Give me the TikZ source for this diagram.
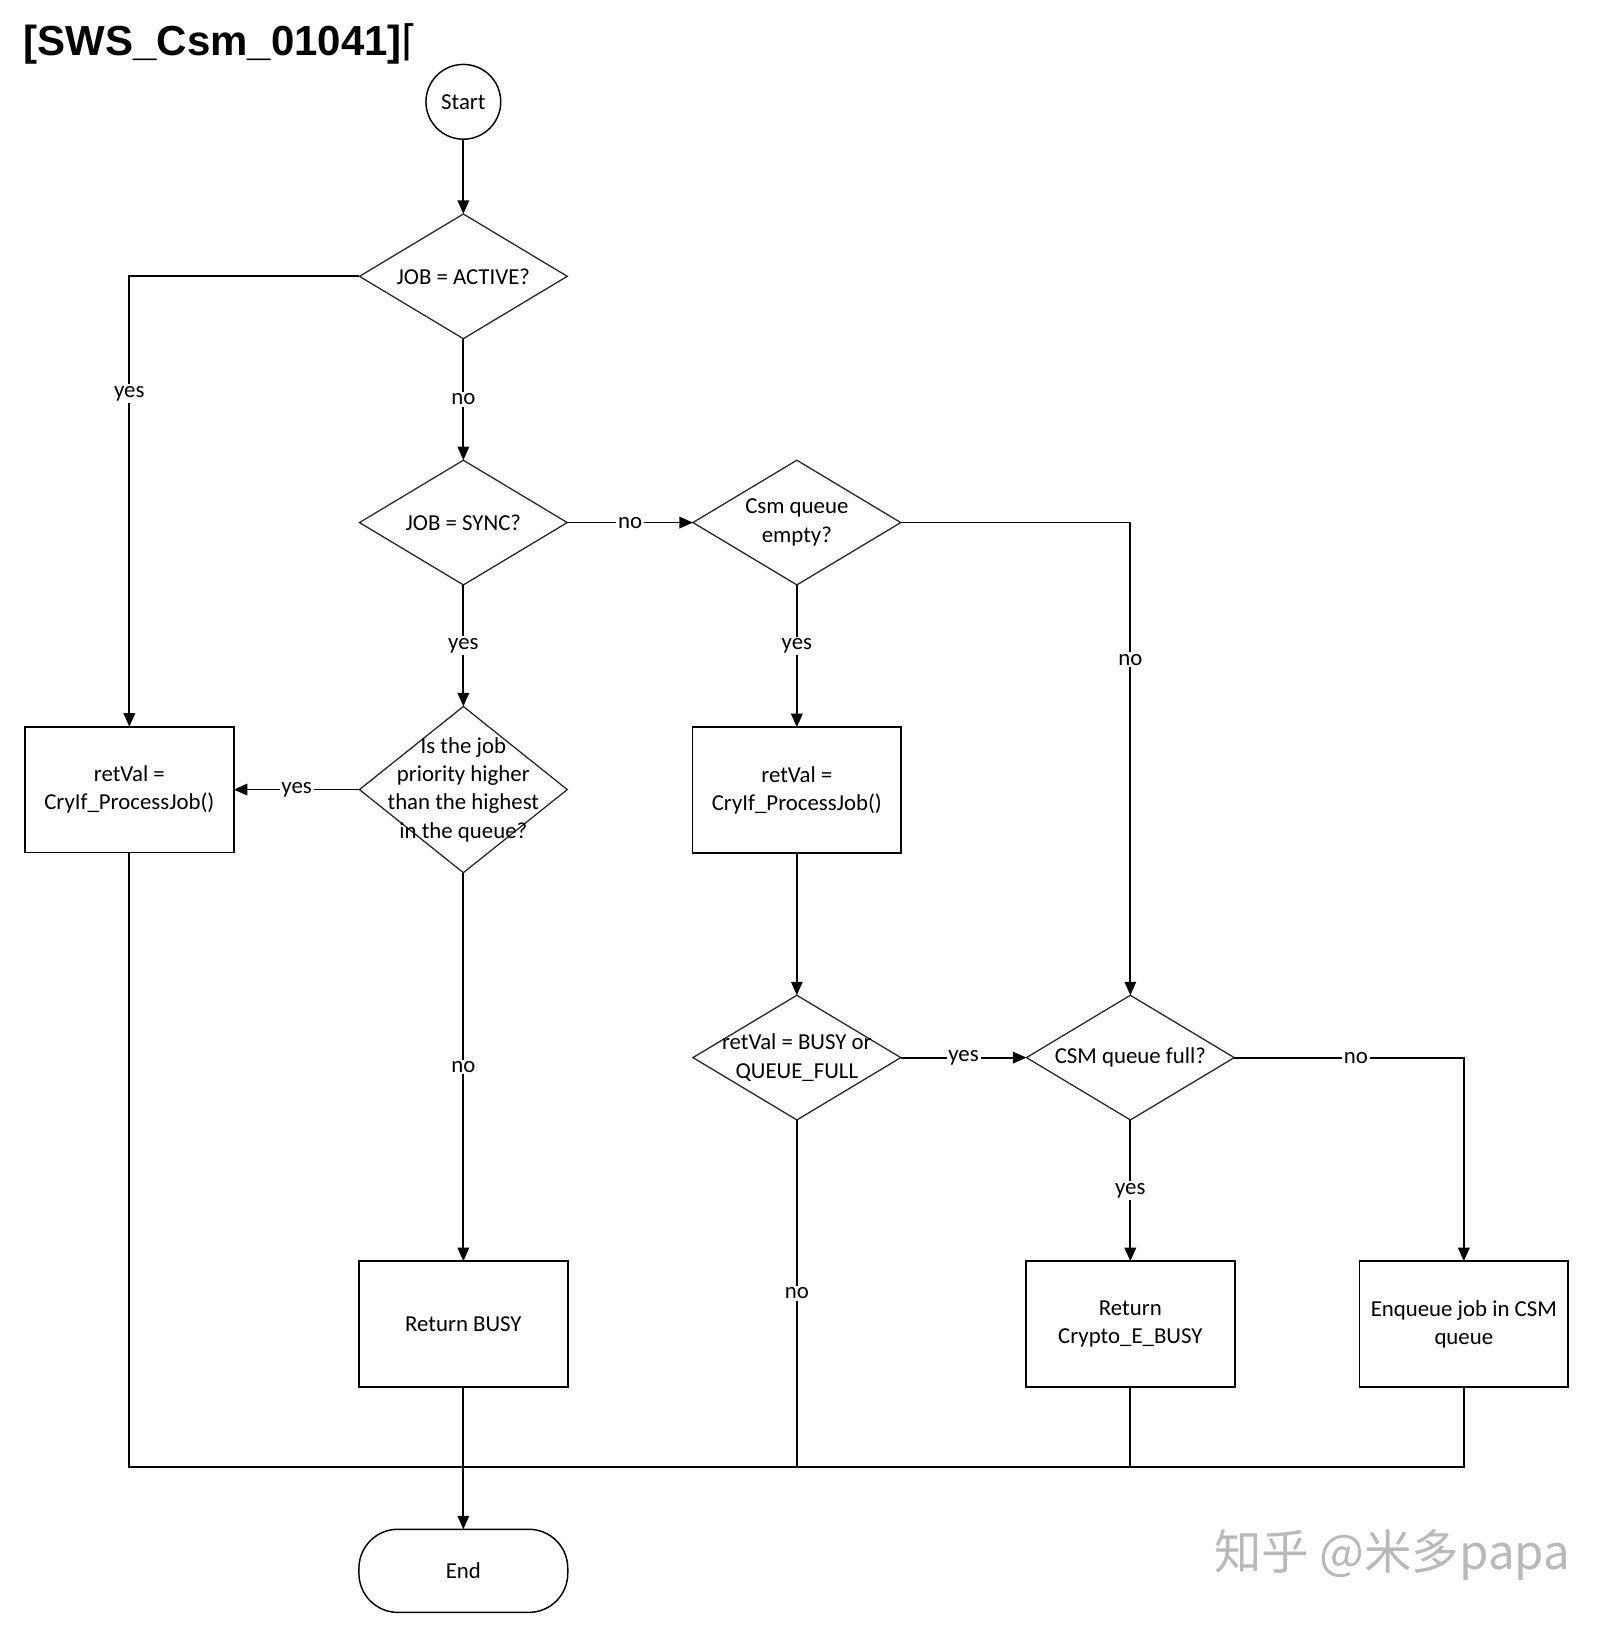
\documentclass[tikz,border=0pt]{standalone}
\usepackage{fontspec}
\setmainfont{Carlito}
\newfontfamily\titlefont{Liberation Sans}
\newfontfamily\symfont{DejaVu Sans}
\newfontfamily\cjk{Noto Sans CJK SC}
\usetikzlibrary{positioning,arrows.meta,shapes.geometric}

\begin{document}
\begin{tikzpicture}[
  font=\fontsize{12.5}{15.5}\selectfont,
  decision/.style={diamond, draw=black!85, line width=0.7pt, aspect=1.667,
                   minimum width=4cm, minimum height=2.4cm, inner sep=0pt, outer sep=0pt},
  qtext/.style={align=center, inner sep=0pt},
  process/.style={draw, line width=1pt, align=center, outer sep=0pt,
                  minimum width=4.02cm, minimum height=2.42cm},
  terminal/.style={draw, line width=0.8pt, align=center, outer sep=0pt},
  lbl/.style={fill=white, inner sep=1pt},
  arr/.style={-{Triangle[length=2.6mm, width=2.2mm]}},
  every path/.style={line width=1pt}]
\useasboundingbox (0,0) rectangle (31.1,-31.36);
\node[anchor=base west, inner sep=0pt,
      font=\titlefont\bfseries\fontsize{23}{27}\selectfont] (title)
  at (0.44,-1.06) {[SWS\_Csm\_01041]{\symfont\mdseries ⌈}};
% start and first decisions
\node[terminal, circle, minimum size=1.44cm, inner sep=0pt] (start) at (8.92,-1.96) {Start};
\node[decision, below=1.44cm of start, label={[qtext]center:JOB = ACTIVE?}] (d1) {};
\node[decision, below=2.34cm of d1, label={[qtext]center:JOB = SYNC?}] (d2) {};
\node[decision, right=2.42cm of d2, label={[qtext]center:Csm queue\\empty?}] (d3) {};
\node[decision, below=2.34cm of d2, minimum height=3.2cm,
      label={[qtext]center:Is the job\\priority higher\\than the highest\\in the queue?}] (d4) {};
\node[process, left=2.42cm of d4] (box1) {retVal =\\CryIf\_ProcessJob()};
\node[process, below=2.74cm of d3] (box2) {retVal =\\CryIf\_ProcessJob()};
\node[decision, below=2.74cm of box2,
      label={[qtext]center:retVal = BUSY or\\QUEUE\_FULL}] (d5) {};
\node[decision, right=2.42cm of d5, label={[qtext]center:CSM queue full?}] (d6) {};
% results
\node[process, below=7.48cm of d4] (box3) {Return BUSY};
\node[process, below=2.72cm of d6] (box4) {Return\\Crypto\_E\_BUSY};
\node[process, right=2.4cm of box4] (box5) {Enqueue job in CSM\\queue};
\node[terminal, rounded corners=0.75cm, minimum width=4.02cm, minimum height=1.6cm,
      below=2.74cm of box3] (end) {End};
\coordinate[below=1.54cm of box3] (bus);
% connectors
\draw[arr] (start) -- (d1);
\draw[arr] (d1.west) -| node[lbl, pos=0.63] {yes} (box1.north);
\draw[arr] (d1) -- node[lbl] {no} (d2);
\draw[arr] (d2) -- node[lbl] {no} (d3);
\draw[arr] (d2) -- node[lbl] {yes} (d4);
\draw[arr] (d3.east) -| node[lbl, pos=0.645] {no} (d6.north);
\draw[arr] (d3) -- node[lbl, pos=0.43] {yes} (box2);
\draw[arr] (d4) -- node[lbl] {yes} (box1);
\draw[arr] (d4) -- node[lbl] {no} (box3);
\draw[arr] (box2) -- (d5);
\draw[arr] (d5) -- node[lbl] {yes} (d6);
\draw[arr] (d6.east) -| node[lbl, pos=0.265] {no} (box5.north);
\draw[arr] (d6) -- node[lbl] {yes} (box4);
\draw (d5.south) -- node[lbl] {no} (d5.south |- bus);
\draw (box1.south) |- (bus) -| (box5.south);
\draw (box4.south) -- (box4.south |- bus);
\draw[arr] (box3) -- (end);
\node[font=\cjk\fontsize{26}{31}\selectfont, text=gray!55] (mark) at (26.8,-29.94) {知乎 @米多papa};
\end{tikzpicture}
\end{document}
